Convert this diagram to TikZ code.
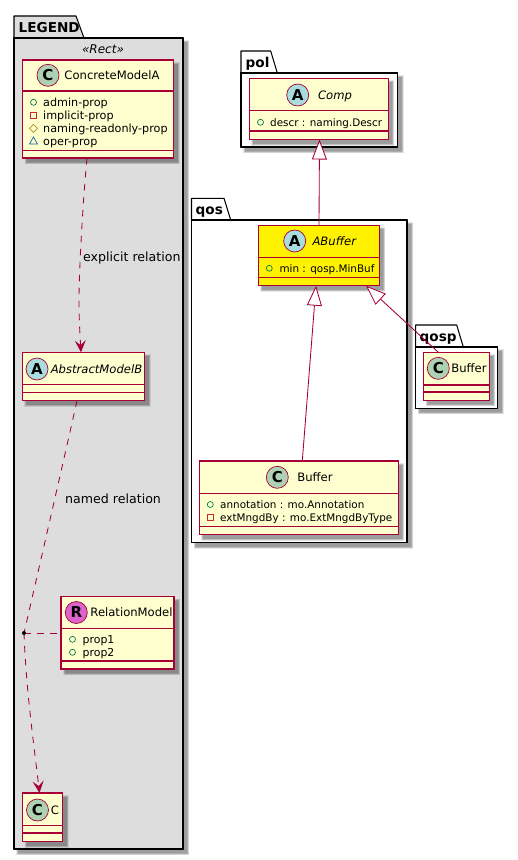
\documentclass[tikz,border=0pt]{standalone}
\usepackage{fontspec}
\setmainfont{DejaVu Sans}
\usetikzlibrary{arrows.meta,calc,shapes.geometric}
\definecolor{umlline}{HTML}{A80036}
\definecolor{umlfill}{HTML}{FEFECE}
\definecolor{legendfill}{HTML}{DDDDDD}
\definecolor{cspot}{HTML}{ADD1B2}
\definecolor{aspot}{HTML}{A9DCDF}
\definecolor{rspot}{HTML}{DC63CC}
\definecolor{vpub}{HTML}{038048}
\definecolor{vpriv}{HTML}{C82930}
\definecolor{vprot}{HTML}{B38D22}
\definecolor{vpack}{HTML}{1963A0}
\tikzset{
  x=1pt,y=-1pt,
  boxnode/.style={draw=umlline,line width=1.2pt,inner sep=0pt,outer sep=0pt},
  sepline/.style={draw=umlline,line width=1.1pt},
  pkgline/.style={draw=black,line width=1.05pt,line join=round},
  shadowlayer/.style={fill=black,opacity=.09,draw=none},
  spot/.style={circle,draw=umlline,line width=.7pt,minimum size=22pt,inner sep=0pt,font=\fontsize{15}{15}\selectfont\bfseries},
  namelabel/.style={inner sep=0pt,font=\fontsize{11.6}{12}\selectfont,anchor=base},
  absname/.style={namelabel,font=\fontsize{11.6}{12}\selectfont\itshape},
  memberlabel/.style={inner sep=0pt,font=\fontsize{10.4}{12}\selectfont,anchor=base west,text=black},
  legendmember/.style={memberlabel,font=\fontsize{11.2}{12}\selectfont},
  pkglabel/.style={inner sep=0pt,font=\fontsize{13.6}{14}\selectfont\bfseries,anchor=base west},
  edgelabel/.style={inner sep=0pt,font=\fontsize{12.6}{13}\selectfont,anchor=base west,text=black},
  relation/.style={draw=umlline,line width=.85pt},
  dashrel/.style={relation,dash pattern=on 6.5pt off 6.5pt},
  inherit/.style={relation,{Triangle[open,fill=white,length=20pt,width=15pt,line width=.85pt]}-},
  vee/.style={relation,-{Stealth[length=12pt,width=11pt,inset=5pt,fill=umlline]}},
}
% shadow x1 y1 x2 y2
\newcommand{\softshadow}[4]{%
  \fill[shadowlayer] (#1+2,#2+2) rectangle (#3+6,#4+6);
  \fill[shadowlayer] (#1+2.5,#2+2.5) rectangle (#3+5.5,#4+5.5);
  \fill[shadowlayer] (#1+3,#2+3) rectangle (#3+5,#4+5);
  \fill[shadowlayer] (#1+3.5,#2+3.5) rectangle (#3+4.5,#4+4.5);
  \fill[shadowlayer] (#1+4,#2+4) rectangle (#3+4,#4+4);
}
% umlbox name x1 y1 x2 y2 fill line1 line2
\newcommand{\umlbox}[8]{%
  \softshadow{#2}{#3}{#4}{#5}
  \node[boxnode,fill=#6,minimum width={(#4)-(#2)},minimum height={(#5)-(#3)}] (#1) at ({((#2)+(#4))/2},{((#3)+(#5))/2}) {};
  \draw[sepline] (#2,#7) -- (#4,#7);
  \draw[sepline] (#2,#8) -- (#4,#8);
}
% package name x1 tabx slantx ytop ybody x2 y2 fill
\newcommand{\umlpkg}[9]{%
  \softshadow{#2}{#6}{#7}{#8}
  \path[pkgline,fill=#9] (#2,#6) rectangle (#7,#8);
  \path[pkgline,fill=#9] (#2,#6) -- (#2,#5) -- (#3,#5) -- (#4,#6) -- cycle;
  \draw[pkgline] (#2,#6) -- (#7,#6) -- (#7,#8) -- (#2,#8) -- cycle;
}
\newcommand{\icpub}[2]{\draw[vpub,line width=.7pt] (#1,#2) circle (3pt);}
\newcommand{\icpriv}[2]{\draw[vpriv,line width=.7pt] (#1-3,#2-3) rectangle (#1+3,#2+3);}
\newcommand{\icprot}[2]{\draw[vprot,line width=.7pt] (#1-4,#2) -- (#1,#2-4) -- (#1+4,#2) -- (#1,#2+4) -- cycle;}
\newcommand{\icpack}[2]{\draw[vpack,line width=.7pt] (#1-4,#2+3) -- (#1,#2-4) -- (#1+4,#2+3) -- cycle;}
\begin{document}
\begin{tikzpicture}
\useasboundingbox (0,0) rectangle (518,860);
\fill[white] (0,0) rectangle (518,860);
% packages
\umlpkg{legend}{14}{76}{84}{16}{38}{183}{849}{legendfill}
\umlpkg{pol}{241}{270.7}{277.3}{51}{73}{397.6}{147}{white}
\umlpkg{qos}{191.5}{224}{230.7}{198.3}{220}{407}{542.7}{white}
\umlpkg{qosp}{415.7}{456.7}{463.3}{325}{347}{497.7}{408.3}{white}
\node[pkglabel] (tlegend) at (18.5,32) {LEGEND};
\node[pkglabel] (tpol) at (245.5,67) {pol};
\node[pkglabel] (tqos) at (195.5,214) {qos};
\node[pkglabel] (tqosp) at (419.5,341) {qosp};
\node[inner sep=0pt,font=\fontsize{12}{13}\selectfont\itshape,anchor=base] (trect) at (103,53.5) {«Rect»};
% boxes
\umlbox{conc}{22.5}{60}{173.5}{158}{umlfill}{91}{150.7}
\umlbox{absb}{22.3}{352.3}{144.7}{400.7}{umlfill}{384.3}{392.3}
\umlbox{relm}{61}{596.7}{174}{669}{umlfill}{628.7}{661}
\umlbox{cbox}{22.5}{793}{62.5}{841.5}{umlfill}{825.7}{833}
\umlbox{comp}{249.3}{78.3}{388.3}{139.5}{umlfill}{110.7}{131}
\umlbox{abuf}{258.3}{225.3}{379.3}{285.7}{yellow}{257.3}{277.7}
\umlbox{buf}{199.3}{461}{398.3}{534.7}{umlfill}{493.3}{526.3}
\umlbox{qbuf}{423.7}{352.3}{489.3}{400.3}{umlfill}{385}{392}
% spots
\node[spot,fill=cspot] (sconc) at (48,75.3) {C};
\node[spot,fill=aspot] (sabsb) at (37,369) {A};
\node[spot,fill=rspot] (srelm) at (76.3,612.5) {R};
\node[spot,fill=cspot] (scbox) at (37.5,810) {C};
\node[spot,fill=aspot] (scomp) at (297.7,95) {A};
\node[spot,fill=aspot] (sabuf) at (294.7,241) {A};
\node[spot,fill=cspot] (sbuf) at (277.3,477.3) {C};
\node[spot,fill=cspot] (sqbuf) at (438.3,368.3) {C};
% names
\node[namelabel] (nconc) at (112,79.7) {ConcreteModelA};
\node[absname] (nabsb) at (96.5,373.3) {AbstractModelB};
\node[namelabel] (nrelm) at (131.5,616.8) {RelationModel};
\node[namelabel] (ncbox) at (55,814.3) {C};
\node[absname] (ncomp) at (335,99.3) {Comp};
\node[absname] (nabuf) at (334.3,245.3) {ABuffer};
\node[namelabel] (nbuf) at (315,481.6) {Buffer};
\node[namelabel] (nqbuf) at (469,372.6) {Buffer};
% members
\icpub{33.5}{102.3}
\node[legendmember] (m1) at (43,106) {admin-prop};
\icpriv{33.5}{115.3}
\node[legendmember] (m2) at (43,119) {implicit-prop};
\icprot{33.5}{128.3}
\node[legendmember] (m3) at (43,132) {naming-readonly-prop};
\icpack{33.5}{141}
\node[legendmember] (m4) at (43,145) {oper-prop};
\icpub{72.5}{639.3}
\node[memberlabel,font=\fontsize{10.9}{12}\selectfont] (m5) at (82.5,643) {prop1};
\icpub{72.5}{652.3}
\node[memberlabel,font=\fontsize{10.9}{12}\selectfont] (m6) at (82.5,656) {prop2};
\icpub{260.5}{122.3}
\node[memberlabel] (m7) at (270,126) {descr : naming.Descr};
\icpub{269.3}{268.3}
\node[memberlabel] (m8) at (279.3,272) {min : qosp.MinBuf};
\icpub{210.3}{504.5}
\node[memberlabel] (m9) at (220,508.2) {annotation : mo.Annotation};
\icpriv{210.3}{517.5}
\node[memberlabel] (m10) at (220,521.2) {extMngdBy : mo.ExtMngdByType};
% connectors
\coordinate (dotpos) at (24,633);
\draw[dashrel,vee] ([xshift=-11pt]conc.south) .. controls (83,200) and (79,270) .. (79,300) .. controls (79,320) and (80,335) .. ([xshift=-2.5pt]absb.north);
\node[edgelabel] (lexp) at (83,261) {explicit relation};
\draw[dashrel] ([xshift=-6.5pt]absb.south) .. controls (66,450) and (34,590) .. (dotpos);
\draw[dashrel,vee] (dotpos) .. controls (26,690) and (34,745) .. ([xshift=-3pt]cbox.north);
\draw[dashrel] (dotpos) -- (relm.west |- dotpos);
\node[circle,fill=black,inner sep=0pt,minimum size=4pt] (dot) at (dotpos) {};
\node[edgelabel] (lnam) at (65,503) {named relation};
\draw[inherit] ([xshift=.7pt]comp.south) -- ([xshift=.2pt]abuf.north);
\draw[inherit] ([xshift=-2.8pt]abuf.south) -- ([xshift=3.5pt]buf.north);
\draw[inherit] ([xshift=47.2pt]abuf.south) -- ([xshift=-18.2pt]qbuf.north);
\end{tikzpicture}
\end{document}
